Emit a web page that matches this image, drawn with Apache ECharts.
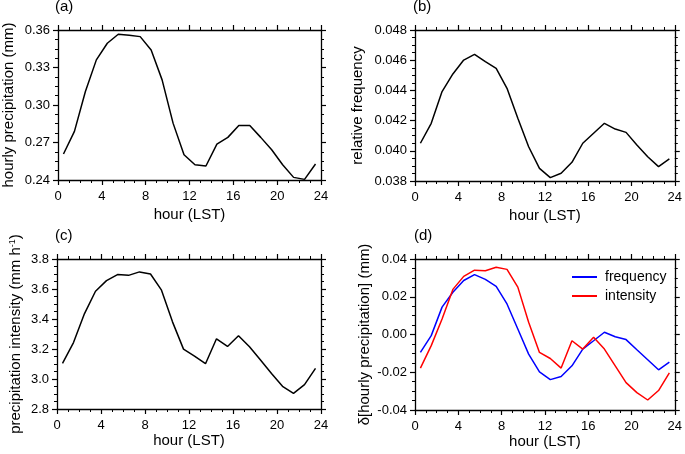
<!DOCTYPE html>
<html>
<head>
<meta charset="utf-8">
<script src="https://cdn.jsdelivr.net/npm/echarts@6/dist/echarts.min.js"></script>
<style>html,body{margin:0;padding:0;background:#fff}#c{width:685px;height:454px}</style>
</head>
<body>
<div id="c"></div>
<script>
// ---- data ----
const hours = [0.5,1.5,2.5,3.5,4.5,5.5,6.5,7.5,8.5,9.5,10.5,11.5,12.5,13.5,14.5,15.5,16.5,17.5,18.5,19.5,20.5,21.5,22.5,23.5];
const hourlyPrecip = [0.2608,0.2789,0.3108,0.3361,0.3494,0.3566,0.3558,0.3547,0.3440,0.3201,0.2855,0.2602,0.2522,0.2512,0.2687,0.2741,0.2836,0.2836,0.2741,0.2642,0.2522,0.2421,0.2405,0.2528];
const relFreq = [0.0405,0.04182,0.04392,0.04509,0.04601,0.04639,0.0459,0.04546,0.04414,0.04215,0.04027,0.03884,0.03822,0.03851,0.03924,0.0405,0.04116,0.04182,0.04144,0.04122,0.04038,0.03961,0.03895,0.03946];
const precipIntensity = [3.104,3.243,3.436,3.585,3.656,3.696,3.691,3.714,3.700,3.592,3.381,3.199,3.153,3.102,3.268,3.217,3.288,3.215,3.126,3.037,2.951,2.904,2.962,3.071];
const deltaFrequency = [-0.0095,-0.0006,0.0145,0.0224,0.0286,0.0317,0.0292,0.0255,0.0162,0.0029,-0.0104,-0.0198,-0.0239,-0.0223,-0.0166,-0.0077,-0.0033,0.0012,-0.0012,-0.0027,-0.0081,-0.0134,-0.0187,-0.0146];
const deltaIntensity = [-0.0178,-0.0059,0.0082,0.0239,0.0308,0.0341,0.0338,0.0356,0.0345,0.0251,0.0065,-0.0095,-0.0127,-0.0178,-0.0033,-0.0077,-0.0015,-0.0077,-0.0166,-0.0255,-0.0308,-0.0347,-0.0297,-0.0203];
const panelLabels = ['(a)','(b)','(c)','(d)'];
const yNames = ['hourly precipitation (mm)','relative frequency','{t|precipitation intensity (mm h}{s|-1}{t|)}','δ[hourly precipitation] (mm)'];
const xName = 'hour (LST)';
const legendNames = ['frequency','intensity'];

// ---- layout ----
const FONT = '"Liberation Sans", Arial, Helvetica, sans-serif';
const grids = [
  {left:57, top:30, width:264, height:150},
  {left:415, top:30, width:264, height:151},
  {left:57, top:259, width:264, height:150},
  {left:415, top:259, width:264, height:151}
];
const yRanges = [
  {min:0.24, max:0.36, interval:0.03, dec:2},
  {min:0.038, max:0.048, interval:0.002, dec:3},
  {min:2.8, max:3.8, interval:0.2, dec:1},
  {min:-0.04, max:0.04, interval:0.02, dec:2}
];
const yNameGaps = [42, 50, 34, 43];
const xNameGaps = [27, 27, 23, 23];

const lineStyle = {color:'#000', width:1.3};
const tick = {show:true, length:5, lineStyle:{color:'#000', width:1.2}};
const minor = {show:true, splitNumber:4, length:3, lineStyle:{color:'#000', width:1}};
const xAxes = [], yAxes = [];
grids.forEach((g, i) => {
  xAxes.push({
    type:'value', gridIndex:i, position:'bottom', min:0, max:24, interval:4,
    axisLine:{show:true, onZero:false, lineStyle}, axisTick:tick, minorTick:minor,
    splitLine:{show:false}, minorSplitLine:{show:false},
    axisLabel:{color:'#000', fontSize:13, fontFamily:FONT, margin:10},
    name:xName, nameLocation:'middle', nameGap:xNameGaps[i],
    nameTextStyle:{color:'#000', fontSize:15, fontFamily:FONT}
  });
  xAxes.push({
    type:'value', gridIndex:i, position:'top', min:0, max:24, interval:4,
    axisLine:{show:true, onZero:false, lineStyle}, axisTick:tick, minorTick:minor,
    splitLine:{show:false}, axisLabel:{show:false}
  });
  const r = yRanges[i];
  yAxes.push({
    type:'value', gridIndex:i, position:'left', min:r.min, max:r.max, interval:r.interval,
    axisLine:{show:true, onZero:false, lineStyle}, axisTick:tick, minorTick:minor,
    splitLine:{show:false}, minorSplitLine:{show:false},
    axisLabel:{color:'#000', fontSize:13, fontFamily:FONT, margin:8, formatter:v => v.toFixed(r.dec)},
    name:yNames[i], nameLocation:'middle', nameGap:yNameGaps[i],
    nameTextStyle:{color:'#000', fontSize:15, fontFamily:FONT,
      rich:{t:{fontSize:15, fontFamily:FONT, color:'#000'}, s:{fontSize:9, fontFamily:FONT, color:'#000', verticalAlign:'top', padding:[0,0,6,0]}}}
  });
  yAxes.push({
    type:'value', gridIndex:i, position:'right', min:r.min, max:r.max, interval:r.interval,
    axisLine:{show:true, onZero:false, lineStyle}, axisTick:tick, minorTick:minor,
    splitLine:{show:false}, axisLabel:{show:false}
  });
});

const pairs = arr => hours.map((h, k) => [h, arr[k]]);
const mk = (name, arr, i, color) => ({
  name, type:'line', xAxisIndex:i*2, yAxisIndex:i*2, data:pairs(arr),
  showSymbol:false, symbol:'none', lineStyle:{color, width:1.5}, itemStyle:{color}
});

const titlePos = [{left:55, top:-1},{left:413, top:-1},{left:55, top:228},{left:414, top:228}];
const option = {
  animation:false,
  backgroundColor:'#fff',
  title: panelLabels.map((t, i) => ({text:t, left:titlePos[i].left, top:titlePos[i].top, padding:0,
    textStyle:{fontSize:15, fontWeight:'normal', color:'#000', fontFamily:FONT}})),
  grid: grids,
  xAxis: xAxes,
  yAxis: yAxes,
  legend: {
    data: legendNames, orient:'vertical', left:572, top:270, itemGap:5,
    icon:'rect', itemWidth:25, itemHeight:2,
    textStyle:{fontSize:14, fontFamily:FONT, color:'#000', padding:[0,0,0,3]},
    padding:0
  },
  series: [
    mk('hourly', hourlyPrecip, 0, '#000'),
    mk('relfreq', relFreq, 1, '#000'),
    mk('intens', precipIntensity, 2, '#000'),
    mk('frequency', deltaFrequency, 3, '#0000ff'),
    mk('intensity', deltaIntensity, 3, '#ff0000')
  ]
};
const chart = echarts.init(document.getElementById('c'), null, {renderer:'canvas'});
chart.setOption(option);
</script>
</body>
</html>
